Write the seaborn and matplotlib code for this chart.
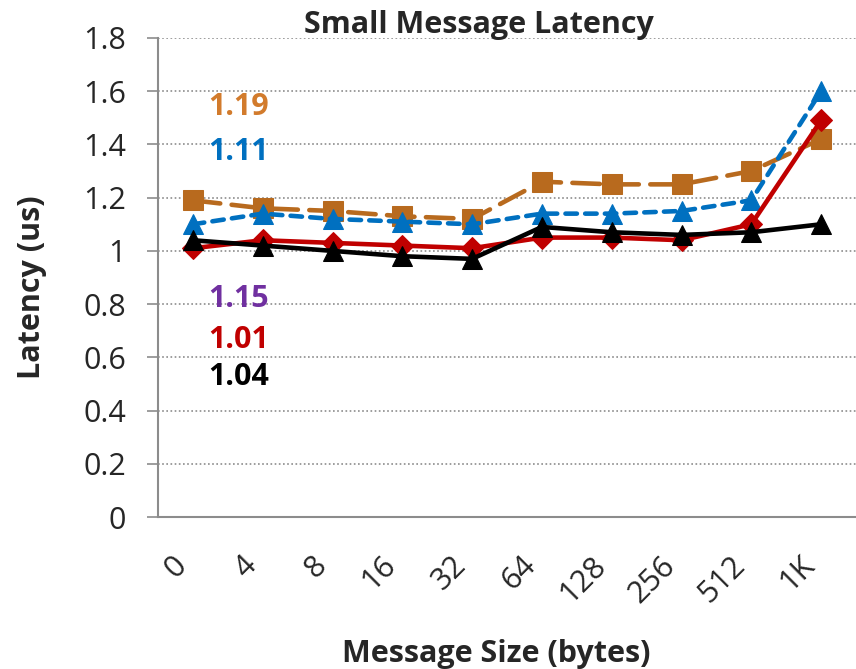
import matplotlib
matplotlib.use("Agg")
import matplotlib.pyplot as plt
import pandas as pd
import seaborn as sns

sizes = ["0", "4", "8", "16", "32", "64", "128", "256", "512", "1K"]
orange_sq = [1.19, 1.16, 1.15, 1.13, 1.12, 1.26, 1.25, 1.25, 1.30, 1.42]
blue_tri = [1.10, 1.14, 1.12, 1.11, 1.10, 1.14, 1.14, 1.15, 1.19, 1.60]
red_dia = [1.01, 1.04, 1.03, 1.02, 1.01, 1.05, 1.05, 1.04, 1.10, 1.49]
black_tri = [1.04, 1.02, 1.00, 0.98, 0.97, 1.09, 1.07, 1.06, 1.07, 1.10]

labels = ["1.19", "1.11", "1.15", "1.01", "1.04"]
label_y = [1.54, 1.37, 0.82, 0.665, 0.525]
label_colors = ["#D27B2C", "#0070C0", "#7030A0", "#C00000", "#000000"]

sns.set_style("white")
plt.rcParams["font.family"] = ["Open Sans", "DejaVu Sans"]

fig = plt.figure(figsize=(8.56, 6.69), dpi=100)
ax = fig.add_axes([0.1846, 0.2272, 0.8154, 0.716])

series = [
    (orange_sq, "#B86A1E", "s", (6, 2.5), 14),
    (blue_tri, "#0070C0", "^", (2.5, 1.8), 15),
    (red_dia, "#C00000", "D", None, 11),
    (black_tri, "#000000", "^", None, 15),
]
for vals, color, marker, dash, ms in series:
    df = pd.DataFrame({"size": sizes, "latency": vals})
    kw = dict(linestyle=(0, dash)) if dash else {}
    sns.lineplot(data=df, x="size", y="latency", ax=ax, color=color,
                 marker=marker, markersize=ms, markeredgecolor=color,
                 linewidth=3.3, solid_capstyle="round", dash_capstyle="round",
                 sort=False, **kw)

for txt, yv, c in zip(labels, label_y, label_colors):
    ax.text(0.66, yv, txt, color=c, fontsize=22, fontweight="bold",
            ha="center", va="center")

ax.set_xlim(-0.5, 9.5)
ax.set_ylim(0, 1.8)
ax.set_yticks([0, 0.2, 0.4, 0.6, 0.8, 1.0, 1.2, 1.4, 1.6, 1.8])
ax.set_yticklabels(["0", "0.2", "0.4", "0.6", "0.8", "1", "1.2", "1.4", "1.6", "1.8"])
ax.yaxis.grid(True, linestyle=(0, (1, 1.5)), color="#8c8c8c", linewidth=1.2)
ax.xaxis.grid(False)

ax.set_xticks(range(len(sizes)))
ax.set_xticklabels(sizes, rotation=45, ha="right", va="top", fontsize=22)
ax.set_xticks([i - 0.5 for i in range(len(sizes) + 1)], minor=True)
ax.tick_params(axis="x", which="major", length=0, pad=24)
ax.tick_params(axis="x", which="minor", length=8, width=1.5, color="#8c8c8c",
               direction="out")
ax.tick_params(axis="y", labelsize=22, length=8, width=1.2, color="#8c8c8c",
               direction="out", left=True, pad=15)

for s in ["top", "right"]:
    ax.spines[s].set_visible(False)
for s in ["left", "bottom"]:
    ax.spines[s].set_color("#8c8c8c")
    ax.spines[s].set_linewidth(1.5)

ax.set_xlabel("")
ax.set_ylabel("")
fig.text(0.037, 0.571, "Latency (us)", rotation=90, ha="center", va="center",
         fontsize=22, fontweight="bold")
fig.text(0.58, 0.0, "Message Size (bytes)", ha="center", va="bottom",
         fontsize=22, fontweight="bold")
fig.text(0.56, 0.963, "Small Message Latency", ha="center", va="center",
         fontsize=22, fontweight="bold")

fig.savefig("out.png", dpi=100)
